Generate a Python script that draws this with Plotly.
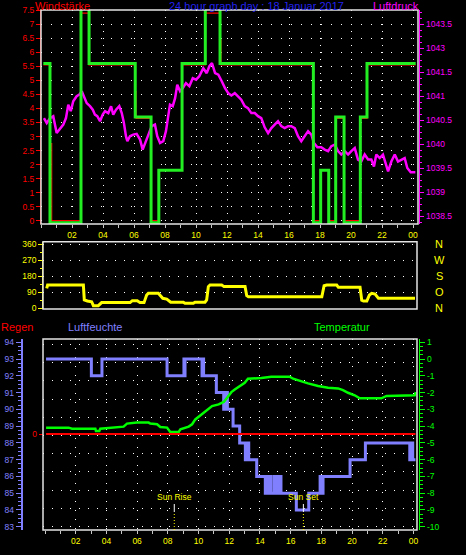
import plotly.graph_objects as go

FONT = "Liberation Sans"
W, H = 466, 555

# ---------------- data ----------------
hour_tick_vals = [2, 4, 6, 8, 10, 12, 14, 16, 18, 20, 22, 24]
hour_tick_text = ["02", "04", "06", "08", "10", "12", "14", "16", "18", "20", "22", "00"]

# wind (green = gust, red = average), step changes
wind_hours = [0.15, 0.58, 2.58, 3.10, 6.08, 7.10, 7.60, 9.10, 10.60, 11.55, 17.57,
              18.04, 18.56, 19.01, 19.55, 20.60, 21.03, 24.17]
wind_gust = [5.6, -0.07, 8.0, 5.6, 3.7, -0.07, 1.8, 5.6, 8.0, 5.6, -0.07,
             1.8, -0.07, 3.7, -0.07, 3.7, 5.6, 5.6]
wind_avg_hours = [0.15, 0.58, 0.69, 2.58, 3.10, 6.08, 6.13, 7.10, 7.60, 9.10, 10.60,
                  11.55, 11.61, 17.57, 18.04, 18.56, 19.01, 19.55, 20.60, 21.03, 24.17]
wind_avg = [5.55, 2.75, 0, 7.4, 5.55, 4.6, 3.65, 0, 1.8, 5.55, 7.4,
            6.45, 5.55, 0, 1.8, 0, 3.65, 0, 3.65, 5.55, 5.55]
wind_tick_step = 0.5

# pressure
press_hours = [0.19, 0.37, 0.58, 0.79, 1.01, 1.23, 1.44, 1.61, 1.76, 1.92,
               2.08, 2.30, 2.47, 2.63, 2.77, 2.95, 3.16, 3.34, 3.48, 3.63,
               3.81, 3.98, 4.13, 4.34, 4.52, 4.66, 4.84, 5.05, 5.21, 5.35,
               5.48, 5.57, 5.74, 5.95, 6.17, 6.39, 6.56, 6.77, 6.92, 7.14,
               7.35, 7.50, 7.68, 7.89, 8.06, 8.21, 8.32, 8.50, 8.65, 8.79,
               8.97, 9.14, 9.35, 9.57, 9.79, 10.00, 10.21, 10.47, 10.69, 10.86,
               11.03, 11.23, 11.44, 11.66, 11.87, 12.08, 12.28, 12.50, 12.71, 12.92,
               13.14, 13.35, 13.57, 13.79, 14.00, 14.21, 14.43, 14.65, 14.86, 15.08,
               15.29, 15.50, 15.72, 15.94, 16.15, 16.37, 16.58, 16.79, 17.01, 17.23,
               17.44, 17.61, 17.83, 18.08, 18.30, 18.52, 18.73, 18.95, 19.16, 19.37,
               19.59, 19.81, 20.02, 20.24, 20.45, 20.66, 20.88, 21.10, 21.31, 21.48,
               21.63, 21.85, 22.06, 22.21, 22.39, 22.60, 22.82, 23.03, 23.25, 23.46,
               23.63, 23.85, 24.15]
press_vals = [1041.05, 1040.92, 1041.05, 1041.10, 1040.66, 1040.79, 1040.88, 1041.05, 1041.40, 1041.23,
              1041.49, 1041.62, 1041.66, 1041.75, 1041.59, 1041.44, 1041.36, 1041.27, 1041.14, 1041.10,
              1040.97, 1041.14, 1041.23, 1041.18, 1041.36, 1041.14, 1041.27, 1041.36, 1041.18, 1040.92,
              1040.58, 1040.45, 1040.58, 1040.62, 1040.64, 1040.49, 1040.23, 1040.45, 1040.58, 1040.84,
              1040.88, 1040.58, 1040.40, 1040.45, 1040.71, 1041.05, 1041.40, 1041.36, 1041.57, 1041.92,
              1041.75, 1041.83, 1041.96, 1041.88, 1042.09, 1042.05, 1042.14, 1042.35, 1042.22, 1042.40,
              1042.48, 1042.22, 1042.18, 1042.01, 1041.83, 1041.70, 1041.64, 1041.70, 1041.62, 1041.53,
              1041.36, 1041.31, 1041.18, 1041.18, 1041.10, 1041.05, 1040.81, 1040.66, 1040.79, 1040.88,
              1040.97, 1040.84, 1040.79, 1040.84, 1040.84, 1040.79, 1040.58, 1040.45, 1040.58, 1040.71,
              1040.62, 1040.40, 1040.29, 1040.29, 1040.23, 1040.19, 1040.32, 1040.36, 1040.19, 1040.10,
              1040.19, 1040.10, 1040.19, 1040.27, 1039.97, 1039.92, 1040.10, 1039.97, 1039.97, 1039.79,
              1040.10, 1040.01, 1040.10, 1039.88, 1039.66, 1039.92, 1040.10, 1039.92, 1039.97, 1040.01,
              1039.75, 1039.64, 1039.64]
press_tick_text = ["1043.5", "1043", "1041.5", "1041", "1040.5", "1040", "1039.5", "1039", "1038.5"]
press_top, press_step = 1043.5, 0.625

# wind direction
dir_hours = [0.11, 0.17, 2.50, 2.56, 2.76, 3.04, 3.15, 3.47, 3.69, 5.54,
             5.69, 6.01, 6.19, 6.45, 6.62, 6.73, 7.38, 7.67, 7.93, 8.19,
             9.01, 9.12, 9.66, 9.77, 10.42, 10.53, 10.64, 10.75, 11.51, 11.66,
             13.03, 13.14, 13.25, 18.03, 18.18, 18.35, 19.00, 19.11, 20.52, 20.63,
             20.74, 20.96, 21.13, 21.28, 21.50, 21.72, 24.10]
dir_deg = [112, 131, 131, 47, 41, 37, 15, 15, 32, 32,
           43, 43, 32, 32, 75, 84, 84, 56, 52, 34,
           34, 28, 28, 34, 34, 47, 122, 131, 131, 122,
           122, 71, 65, 65, 127, 131, 131, 118, 118, 45,
           41, 41, 75, 84, 80, 56, 56]
dir_ticks = [0, 90, 180, 270, 360]
compass_text = ["N", "O", "S", "W", "N"]

# humidity (step)
hum_hours = [0.07, 3.02, 3.71, 7.95, 9.05, 9.08, 9.12, 10.23, 10.28, 10.33,
             11.16, 11.64, 11.70, 11.76, 11.82, 11.88, 12.25, 12.68, 13.05, 13.10,
             13.15, 13.20, 13.27, 13.79, 14.35, 14.50, 14.53, 14.68, 14.71, 14.92,
             14.97, 15.02, 15.07, 15.12, 15.17, 15.22, 15.27, 15.33, 15.37, 16.37,
             17.18, 17.92, 17.97, 18.02, 18.07, 18.11, 19.87, 20.87, 23.76, 23.80,
             23.85, 23.90, 23.95, 24.13]
hum_vals = [93, 92, 93, 92, 93, 92, 93, 92, 93, 92,
            91, 90, 91, 90, 91, 90, 89, 88, 87, 88,
            87, 88, 87, 86, 85, 86, 85, 86, 85, 86,
            85, 86, 85, 86, 85, 86, 85, 86, 85, 84,
            85, 86, 85, 86, 85, 86, 87, 88, 87, 88,
            87, 88, 87, 87]

# temperature
temp_hours = [0.07, 1.54, 1.76, 3.28, 3.32, 3.54, 3.60, 4.26, 5.12, 5.34,
              5.99, 6.75, 6.86, 7.30, 7.51, 7.95, 8.16, 8.71, 8.82, 9.36,
              9.58, 9.79, 10.12, 10.45, 10.88, 11.31, 11.64, 11.86, 12.14, 12.36,
              12.68, 13.01, 13.22, 14.09, 14.74, 15.94, 16.16, 16.70, 17.13, 17.79,
              18.44, 19.09, 19.41, 19.74, 20.17, 20.50, 21.91, 22.24, 24.08, 24.15]
temp_vals = [-4.09, -4.09, -4.15, -4.15, -4.29, -4.29, -4.15, -4.11, -4.03, -3.85,
             -3.79, -3.79, -3.85, -3.89, -4.05, -4.09, -4.35, -4.35, -4.19, -4.03,
             -3.89, -3.60, -3.36, -3.10, -2.80, -2.70, -2.56, -2.30, -1.97, -1.81,
             -1.61, -1.41, -1.17, -1.13, -1.05, -1.05, -1.17, -1.35, -1.45, -1.61,
             -1.71, -1.75, -1.85, -2.01, -2.16, -2.34, -2.34, -2.20, -2.16, -1.97]
temp_ticks = [1, 0, -1, -2, -3, -4, -5, -6, -7, -8, -9, -10]

# rain
rain_hours = [0.07, 24.13]
rain_vals = [0, 0]

# sun
sun_labels = ["Sun Rise", "Sun Set"]
sun_hours = [8.42, 16.83]

# ---------------- helpers ----------------
def px(x):
    return x / W


def py(y):
    return 1 - y / H


GREEN = "#22ee22"
MAG = "#ff00ff"
YEL = "#ffff00"
BLUE = "#8080ff"
RED = "#ff0000"
TICKC = "#c8c8c8"
BORDER = "#e4e4e4"
TF = 8.5

fig = go.Figure()

def line(x, y, xa, ya, color, width, shape="linear"):
    fig.add_trace(go.Scatter(x=x, y=y, xaxis=xa, yaxis=ya, mode="lines",
                             line=dict(color=color, width=width, shape=shape),
                             hoverinfo="skip", showlegend=False))

line(press_hours, press_vals, "x", "y", MAG, 2.5)
line(wind_avg_hours, wind_avg, "x", "y2", RED, 1.2, "hv")
line(wind_hours, wind_gust, "x", "y2", GREEN, 3, "hv")
line(dir_hours, dir_deg, "x2", "y3", YEL, 3)
line(hum_hours, hum_vals, "x3", "y5", BLUE, 3, "hv")
line(temp_hours, temp_vals, "x3", "y6", "#00ff00", 2.5)
line(rain_hours, rain_vals, "x3", "y7", RED, 2)
fig.add_trace(go.Scatter(x=[None], y=[None], xaxis="x3", yaxis="y8", mode="lines",
                         hoverinfo="skip", showlegend=False))

press_tick_vals = [press_top - press_step * i for i in range(len(press_tick_text))]

hour_minor = dict(tickmode="linear", tick0=0, dtick=1, ticks="outside", ticklen=3,
                  tickcolor=TICKC, showgrid=False)

layout = dict(
    width=W, height=H, autosize=False,
    margin=dict(l=0, r=0, t=0, b=0, pad=0, autoexpand=False),
    paper_bgcolor="#000000", plot_bgcolor="#000000",
    font=dict(family=FONT, size=TF, color="#ffffff"),
    showlegend=False,
    xaxis=dict(domain=[px(41), px(418)], range=[0, 24.32], anchor="y",
               tickmode="array", tickvals=hour_tick_vals, ticktext=hour_tick_text,
               ticks="outside", ticklen=3, tickcolor=TICKC,
               tickfont=dict(color=YEL, size=TF),
               showgrid=True, gridcolor="#ffffff", griddash="1px,6px", gridwidth=1,
               zeroline=False, showline=False, minor=hour_minor, automargin=False),
    yaxis=dict(domain=[py(224), py(10)], range=[1038.292, 1043.865],
               anchor="free", position=px(419.3), side="right",
               tickmode="array", tickvals=press_tick_vals, ticktext=press_tick_text,
               ticks="outside", ticklen=4, tickcolor=MAG,
               showline=True, linecolor=MAG, linewidth=1,
               tickfont=dict(color=MAG, size=TF), showgrid=False, zeroline=False,
               minor=dict(tickmode="linear", tick0=1038.5, dtick=press_step / 4,
                          ticks="outside", ticklen=2, tickcolor=MAG, showgrid=False),
               automargin=False),
    yaxis2=dict(overlaying="y", anchor="free", position=px(40), side="left",
                range=[-0.118, 7.51], tickmode="linear", tick0=0, dtick=wind_tick_step,
                ticks="outside", ticklen=4, tickcolor=RED,
                showline=True, linecolor=RED, linewidth=1,
                tickfont=dict(color=RED, size=TF),
                showgrid=True, gridcolor="#ffffff", griddash="1px,9px", gridwidth=1,
                zeroline=False, automargin=False),
    xaxis2=dict(domain=[px(43), px(417)], range=[-0.13, 24.23], anchor="y3",
                showticklabels=False, ticks="", showgrid=False, zeroline=False,
                showline=False, automargin=False),
    yaxis3=dict(domain=[py(309), py(241.7)], range=[-3.9, 374.6],
                anchor="free", position=px(42.2), side="left",
                tickmode="array", tickvals=dir_ticks,
                ticks="outside", ticklen=4, tickcolor=YEL,
                showline=True, linecolor=YEL, linewidth=1,
                tickfont=dict(color=YEL, size=TF),
                showgrid=True, gridcolor="#ffffff", griddash="1px,8px", gridwidth=1,
                zeroline=False,
                minor=dict(tickmode="linear", tick0=0, dtick=45, ticks="outside",
                           ticklen=2, tickcolor=YEL, showgrid=False),
                automargin=False),
    xaxis3=dict(domain=[px(43), px(417)], range=[-0.13, 24.23], anchor="y5",
                tickmode="array", tickvals=hour_tick_vals, ticktext=hour_tick_text,
                ticks="outside", ticklen=3, tickcolor=TICKC,
                tickfont=dict(color=YEL, size=TF),
                showgrid=True, gridcolor="#ffffff", griddash="1px,8px", gridwidth=1,
                zeroline=False, showline=False, minor=hour_minor, automargin=False),
    yaxis5=dict(domain=[py(530), py(339)], range=[82.8, 94.2],
                anchor="free", position=px(21.7), side="left",
                tickmode="linear", tick0=83, dtick=1,
                ticks="outside", ticklen=5, tickcolor=BLUE,
                showline=True, linecolor=BLUE, linewidth=2,
                tickfont=dict(color=BLUE, size=TF), showgrid=False, zeroline=False,
                minor=dict(tickmode="linear", tick0=83, dtick=0.25, ticks="outside",
                           ticklen=3, tickcolor=BLUE, showgrid=False),
                automargin=False),
    yaxis6=dict(overlaying="y5", anchor="free", position=px(419.3), side="right",
                range=[-10.2, 1.2], tickmode="array", tickvals=temp_ticks,
                ticktext=[str(v) for v in temp_ticks],
                ticks="outside", ticklen=5, tickcolor="#00ff00",
                showline=True, linecolor="#00ff00", linewidth=1,
                tickfont=dict(color="#00ff00", size=TF), showgrid=False, zeroline=False,
                minor=dict(tickmode="linear", tick0=-10, dtick=0.25, ticks="outside",
                           ticklen=3, tickcolor="#00ff00", showgrid=False),
                automargin=False),
    yaxis7=dict(overlaying="y5", anchor="free", position=px(42.7), side="left",
                range=[-1.005, 0.995], tickmode="array", tickvals=[0], ticktext=["0"],
                ticks="outside", ticklen=4, tickcolor=RED,
                tickfont=dict(color=RED, size=TF), showline=False, showgrid=False,
                zeroline=False, automargin=False),
    yaxis8=dict(overlaying="y5", anchor="x3", range=[-0.181, 10.29],
                tickmode="linear", tick0=0, dtick=1, showticklabels=False, ticks="",
                showgrid=True, gridcolor="#ffffff", griddash="1px,8px", gridwidth=1,
                zeroline=False, showline=False, automargin=False),
)

annotations = []

def text(x, y, s, color, size, xanchor="left", xref="paper", yref="paper"):
    annotations.append(dict(x=x, y=y, xref=xref, yref=yref, text=s, showarrow=False,
                            xanchor=xanchor, yanchor="middle",
                            font=dict(family=FONT, size=size, color=color)))

text(px(33), py(6.5), "Windstärke", RED, 11)
text(px(256), py(6.5), "24 hour graph day : 18 Januar 2017", "#2222ee", 11, "center")
text(px(370.5), py(6.5), "Luftdruck", MAG, 11)
text(px(-1), py(327), "Regen", RED, 11)
text(px(65.5), py(327), "Luftfeuchte", BLUE, 11)
text(px(312), py(327), "Temperatur", "#00ff00", 11)
for v, s in zip(dir_ticks, compass_text):
    text(px(439), v, s, YEL, 11, "center", "paper", "y3")
for h, s in zip(sun_hours, sun_labels):
    text(h, py(497.5), s, YEL, 8.5, "center", "x3", "paper")

shapes = []
for xr, yr in [("x domain", "y domain"), ("x2 domain", "y3 domain"), ("x3 domain", "y5 domain")]:
    shapes.append(dict(type="rect", xref=xr, yref=yr, x0=0, x1=1, y0=0, y1=1,
                       line=dict(color=BORDER, width=1.5), layer="above"))
for h in sun_hours:
    shapes.append(dict(type="line", xref="x3", yref="paper", x0=h, x1=h,
                       y0=py(512), y1=py(504), line=dict(color="#ffffff", width=1)))
    shapes.append(dict(type="line", xref="x3", yref="paper", x0=h, x1=h,
                       y0=py(530), y1=py(512), line=dict(color=YEL, width=1, dash="1px,2px")))

layout["annotations"] = annotations
layout["shapes"] = shapes
fig.update_layout(**layout)
fig.write_html("out.html",
               config={"displayModeBar": False},
               post_script="document.body.style.margin='0';document.body.style.background='#000';")
